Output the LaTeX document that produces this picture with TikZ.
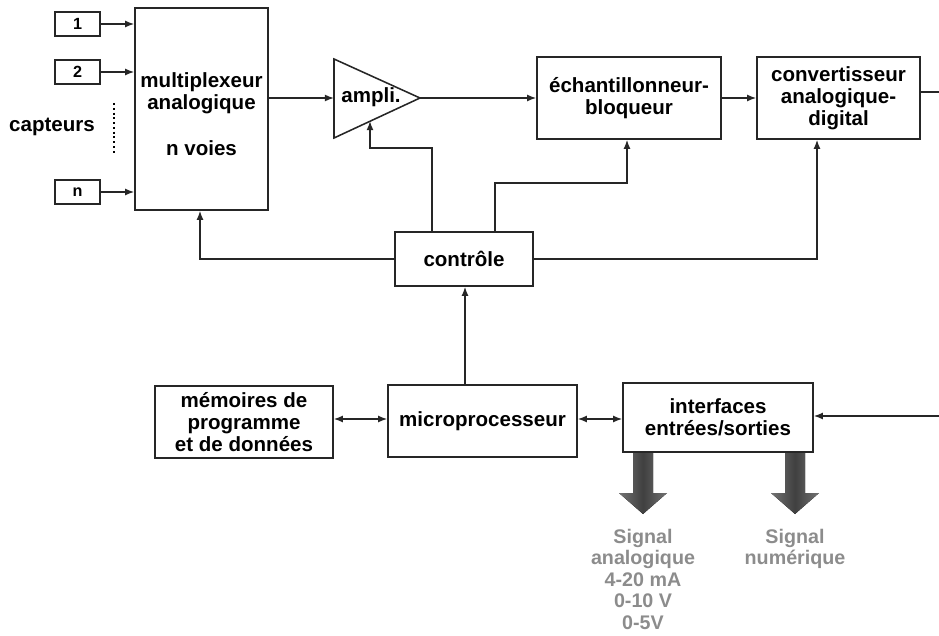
\documentclass[tikz,border=0pt]{standalone}
\usepackage{fontspec}
\setmainfont{Liberation Sans}
\usetikzlibrary{arrows.meta}

\begin{document}
\begin{tikzpicture}[x=0.025cm, y=-0.025cm,
        bloc/.style={draw=black!85, line width=1.1pt, fill=white, align=center, inner sep=0pt,
                     font=\fontsize{14.6}{15.8}\selectfont\bfseries},
        capt/.style={draw=black!85, line width=1.1pt, fill=white, inner sep=0pt,
                     minimum width=45*0.711pt, minimum height=24*0.711pt,
                     font=\fontsize{11.5}{13}\selectfont\bfseries},
        fl/.style={draw=black!85, line width=1.1pt, -{Latex[length=6.5pt,width=5pt]}},
        dfl/.style={draw=black!85, line width=1.1pt, {Latex[length=6.5pt,width=5pt]}-{Latex[length=6.5pt,width=5pt]}},
        lien/.style={draw=black!85, line width=1.1pt},
        sortie/.style={text=black!45, align=center, font=\fontsize{14}{15.3}\selectfont\bfseries}]
        \useasboundingbox (0,0) rectangle (939,636);

        % capteurs
        \node[capt] (c1) at (77.5,24) {1};
        \node[capt] (c2) at (77.5,72) {2};
        \node[capt] (cn) at (77.5,192) {n};
        \node[font=\fontsize{14.6}{15.8}\selectfont\bfseries] (capteurs) at (52,127) {capteurs};
        \draw[line width=1.4pt, dotted] (114,103) -- (114,155);

        % chaine d'acquisition
        \node[bloc, minimum width=133*0.711pt, minimum height=202*0.711pt] (mux) at (201.5,109) {};
        \node[font=\fontsize{14.6}{15.8}\selectfont\bfseries, align=center] (muxt) at (201.5,93) {multiplexeur\\analogique};
        \node[font=\fontsize{14.6}{15.8}\selectfont\bfseries] (muxv) at (201.5,148) {n voies};

        \coordinate (a1) at (334,59);
        \coordinate (a2) at (334,138);
        \coordinate (a3) at (420,98);
        \coordinate (aentree) at (334,98);
        \coordinate (abas) at (370,121);
        \draw[lien, fill=white] (a1) -- (a3) -- (a2) -- cycle;
        \node[font=\fontsize{14.6}{15.8}\selectfont\bfseries] (ampli) at (371,97) {ampli.};

        \node[bloc, minimum width=184*0.711pt, minimum height=82*0.711pt] (ech) at (629,98) {échantillonneur-\\bloqueur};
        \node[bloc, minimum width=163*0.711pt, minimum height=82*0.711pt] (can) at (838.5,98) {convertisseur\\analogique-\\digital};

        \draw[fl] (c1) -- (c1 -| mux.west);
        \draw[fl] (c2) -- (c2 -| mux.west);
        \draw[fl] (cn) -- (cn -| mux.west);
        \draw[fl] (mux.east |- aentree) -- (aentree);
        \draw[fl] (a3) -- (a3 -| ech.west);
        \draw[fl] (ech.east) -- (can.west);
        \coordinate (bordcan) at (939,92);
        \draw[lien] (can.east |- bordcan) -- (bordcan);

        % controle
        \node[bloc, minimum width=138*0.711pt, minimum height=54*0.711pt] (ctrl) at (464,259) {contrôle};
        \draw[fl] (ctrl.north -| 432,0) |- (370,148) -- (abas);
        \draw[fl] (ctrl.north -| 495,0) |- (627,183) -- (ech.south -| 627,0);
        \draw[fl] (ctrl.east) -| (can.south -| 817,0);
        \draw[fl] (ctrl.west) -| (mux.south -| 200,0);

        % partie numerique
        \node[bloc, minimum width=189*0.711pt, minimum height=72*0.711pt] (micro) at (482.5,421) {microprocesseur};
        \node[bloc, minimum width=178*0.711pt, minimum height=72*0.711pt] (mem) at (244,422) {mémoires de\\programme\\et de données};
        \node[bloc, minimum width=190*0.711pt, minimum height=69*0.711pt] (es) at (718,417.5) {interfaces\\entrées/sorties};

        \draw[fl] (micro.north -| 465,0) -- (ctrl.south -| 465,0);
        \draw[dfl] (mem.east |- 0,419) -- (micro.west |- 0,419);
        \draw[dfl] (micro.east |- 0,419) -- (es.west |- 0,419);
        \coordinate (bordes) at (939,416);
        \draw[fl] (bordes) -- (es.east |- bordes);

        % sorties
        \foreach \xs in {643,795} {
            \fill[left color=black!55, right color=black!55, middle color=black!75]
                (\xs-10,453) -- (\xs+10,453) -- (\xs+10,493) -- (\xs+24,493)
                -- (\xs,514) -- (\xs-24,493) -- (\xs-10,493) -- cycle;
        }
        \node[sortie, anchor=north] (sana) at (643,524) {Signal\\analogique\\4-20 mA\\0-10 V\\0-5V};
        \node[sortie, anchor=north] (snum) at (795,524) {Signal\\numérique};
\end{tikzpicture}
\end{document}
